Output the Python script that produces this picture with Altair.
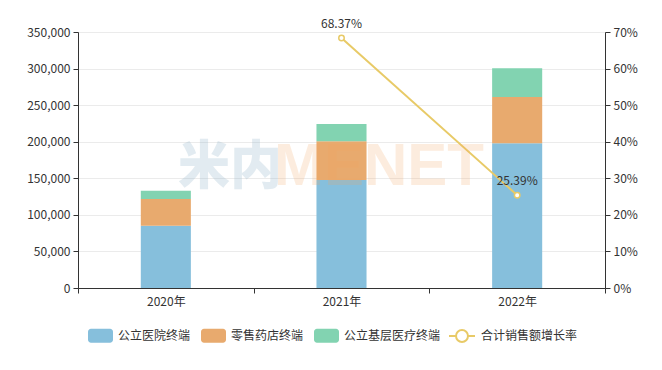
import altair as alt
import pandas as pd

# ---- data ----
years = ["2020年", "2021年", "2022年"]
series = ["公立医院终端", "零售药店终端", "公立基层医疗终端"]
public_hospital = [85200, 147600, 197800]
retail_pharmacy = [36500, 52900, 63300]
primary_care = [11300, 23700, 39200]
growth_name = "合计销售额增长率"
growth = [None, 68.37, 25.39]
left_ticks = [0, 50000, 100000, 150000, 200000, 250000, 300000, 350000]
right_ticks = [0, 10, 20, 30, 40, 50, 60, 70]

colors = ["#86bfdc", "#e8aa6e", "#82d3b1"]
line_color = "#e8ca67"
FONT = "Noto Sans CJK SC"
TXT = "#333333"

rows = []
for i, s in enumerate(series):
    vals = [public_hospital, retail_pharmacy, primary_care][i]
    for y, v in zip(years, vals):
        rows.append({"year": y, "series": s, "value": v, "idx": i})
bar_df = pd.DataFrame(rows)

line_df = pd.DataFrame({"year": years, "g": growth, "s": [growth_name] * 3})

x_enc = alt.X(
    "year:N",
    sort=years,
    scale=alt.Scale(domain=years, paddingInner=0, paddingOuter=0),
    axis=alt.Axis(title=None, labelAngle=0, tickBand="extent", grid=False,
                  domainColor=TXT, tickColor=TXT, tickSize=5, labelPadding=3,
                  labelColor=TXT, labelFontSize=12, labelFont=FONT),
)

rect_path = ("M-0.76,-0.56H0.76A0.24,0.24,0,0,1,1,-0.32V0.32A0.24,0.24,0,0,1,0.76,0.56"
             "H-0.76A0.24,0.24,0,0,1,-1,0.32V-0.32A0.24,0.24,0,0,1,-0.76,-0.56Z")
line_sym = ("M-1,0H-0.46M0.46,0H1M-0.46,0A0.46,0.46,0,1,1,0.46,0"
            "A0.46,0.46,0,1,1,-0.46,0Z")

bars = alt.Chart(bar_df).mark_bar(width={"band": 0.285}).encode(
    x=x_enc,
    y=alt.Y("value:Q", stack="zero",
            scale=alt.Scale(domain=[0, 350000], nice=False),
            axis=alt.Axis(title=None, orient="left", values=left_ticks, format=",.0f",
                          grid=True, gridColor="#ebebeb", domainColor=TXT,
                          tickColor=TXT, tickSize=5, labelPadding=3,
                          labelColor=TXT, labelFontSize=12, labelFont=FONT)),
    color=alt.Color("series:N", sort=series,
                    scale=alt.Scale(domain=series, range=colors),
                    legend=alt.Legend(title=None, orient="none", legendX=10, legendY=291,
                                      direction="horizontal", symbolType=rect_path,
                                      symbolSize=625, symbolStrokeWidth=0, symbolOpacity=1,
                                      labelFont=FONT, labelFontSize=12, labelColor=TXT,
                                      labelOffset=5, columnPadding=10)),
    order=alt.Order("idx:Q", sort="ascending"),
)

y_line = alt.Y("g:Q", scale=alt.Scale(domain=[0, 70], nice=False),
               axis=alt.Axis(title=None, orient="right", values=right_ticks,
                             labelExpr="datum.value + '%'", grid=False,
                             domainColor=TXT, tickColor=TXT, tickSize=5, labelPadding=3,
                             labelColor=TXT, labelFontSize=12, labelFont=FONT))

line = alt.Chart(line_df).mark_line(strokeWidth=2).encode(
    x=x_enc,
    y=y_line,
    stroke=alt.Stroke("s:N", scale=alt.Scale(domain=[growth_name], range=[line_color]),
                      legend=alt.Legend(title=None, orient="none", legendX=370, legendY=290,
                                        symbolType=line_sym, symbolSize=676,
                                        symbolStrokeWidth=2, symbolFillColor="white",
                                        labelFont=FONT, labelFontSize=12, labelColor=TXT,
                                        labelOffset=5)),
)

points = alt.Chart(line_df).mark_point(filled=True, fill="white", stroke=line_color,
                                       strokeWidth=1.5, size=30, opacity=1).encode(
    x=x_enc, y=y_line)

labels = alt.Chart(line_df).transform_filter("isValid(datum.g)").transform_calculate(
    lbl="format(datum.g, '.2f') + '%'"
).mark_text(dy=-14, fontSize=12, font=FONT, color=TXT).encode(
    x=x_enc, y=y_line, text="lbl:N")

wm1 = alt.Chart(pd.DataFrame({"t": ["米内"]})).mark_text(
    align="left", baseline="alphabetic", font=FONT, fontWeight=900, fontSize=52,
    color="#8fb3c8", opacity=0.25).encode(x=alt.value(100), y=alt.value(152), text="t:N")
wm2 = alt.Chart(pd.DataFrame({"t": ["MENET"]})).mark_text(
    align="left", baseline="alphabetic", font="Liberation Sans", fontWeight="bold",
    fontSize=60, color="#f5a55f", opacity=0.2).encode(x=alt.value(196), y=alt.value(153),
                                                        text="t:N")

right = alt.layer(line, points, labels)

chart = alt.layer(bars, right, wm1, wm2).resolve_scale(
    y="independent", color="independent", stroke="independent"
).properties(
    width=527, height=256,
    autosize=alt.AutoSizeParams(type="none"),
    padding={"left": 70, "top": 24, "right": 40, "bottom": 60},
).configure_view(stroke=None).configure(font=FONT)

chart.save("out.html", embed_options={"renderer": "svg", "actions": False})
